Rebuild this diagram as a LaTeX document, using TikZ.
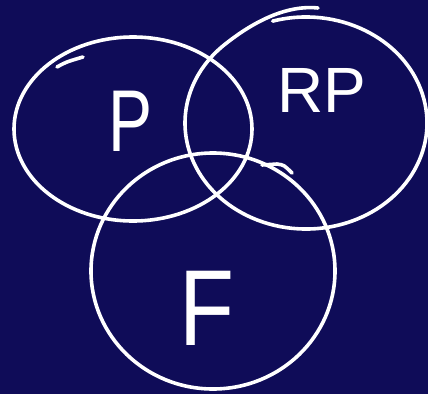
\documentclass[tikz,border=0pt]{standalone}
\usepackage{fontspec}
\usetikzlibrary{calc}
\setmainfont{Liberation Sans}
\definecolor{navy}{RGB}{15,12,88}
\begin{document}
\begin{tikzpicture}[x=1pt,y=-1pt,
  ring/.style={draw=white,line width=3.6pt,line cap=round},
  lbl/.style={text=white,inner sep=0pt}]
\fill[navy] (0,0) rectangle (428,394);
\useasboundingbox (0,0) rectangle (428,394);
% set P
\draw[ring] (133,129) ellipse [x radius=119, y radius=92];
\coordinate (pa) at (57,67);
\coordinate (pb) at (83,57);
\draw[ring] (pa) .. controls (66,62) .. (pb);
% set RP (open ellipse with overshoot at the top)
\coordinate (rs) at ($(306,123)+(254:121 and 106)$);
\draw[ring] (rs) arc [start angle=254, end angle=588, x radius=121, y radius=106] coordinate (re);
\coordinate (rt) at (318,8);
\draw[ring] (re) .. controls (243,30) and (280,4) .. (rt);
% set F
\draw[ring] (213,271) ellipse [x radius=122, y radius=118];
\coordinate (fa) at (262,165);
\coordinate (fb) at (277,164);
\coordinate (fc) at (292,173);
\draw[ring] (fa) -- (fb) .. controls (284,165) .. (fc);
% labels
\node[lbl,font=\fontsize{66}{66}\selectfont,yscale=1.33,transform shape] (p) at (131,121) {P};
\node[lbl,font=\fontsize{64}{64}\selectfont] (rp) at (322,90) {RP};
\node[lbl,font=\fontsize{90}{90}\selectfont,yscale=1.2,transform shape] (f) at (207,308) {F};
\end{tikzpicture}
\end{document}
